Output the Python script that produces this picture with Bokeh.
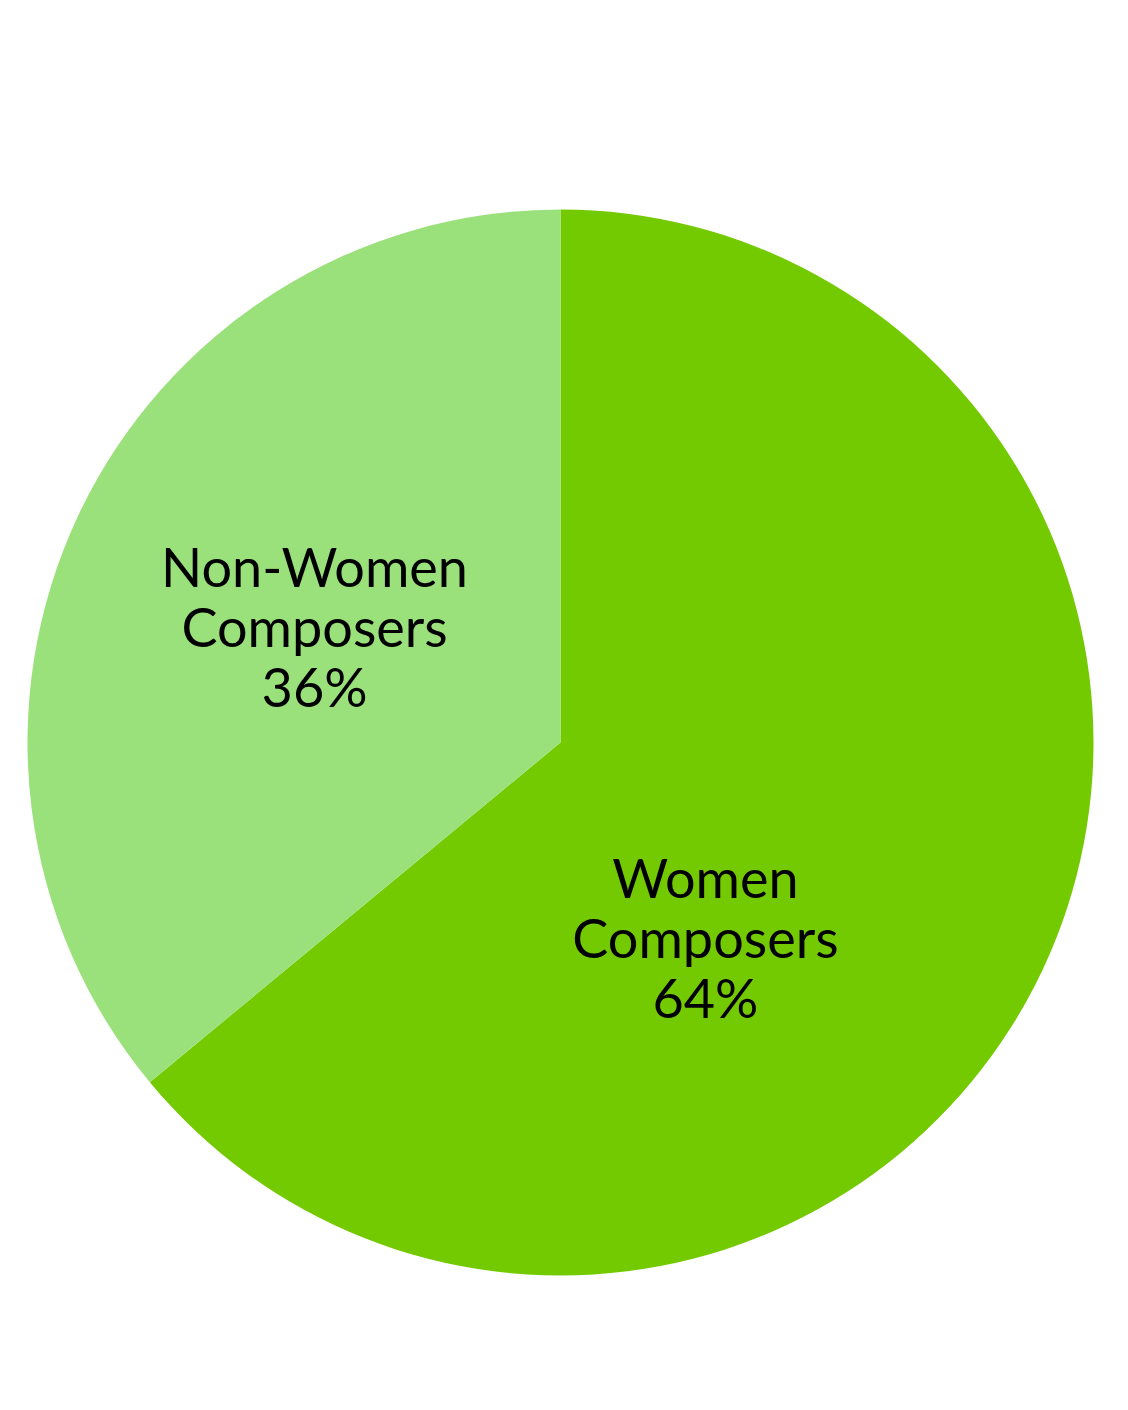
import math
from bokeh.plotting import figure
from bokeh.models import ColumnDataSource, Range1d
from bokeh.core.properties import value
from bokeh.embed import file_html
from bokeh.resources import INLINE

labels = ["Women\nComposers", "Non-Women\nComposers"]
shares = [64, 36]
colors = ["#74CA00", "#9BE17B"]

W, H = 1112, 1394
cx, cy, R = 560, 652, 533

total = sum(shares)
starts, ends, texts = [], [], []
a = math.pi / 2
for s, lab in zip(shares, labels):
    sweep = 2 * math.pi * s / total
    starts.append(a - sweep)
    ends.append(a)
    a -= sweep
    texts.append(f"{lab}\n{s}%")

# label placement (polar offsets in fractions of radius)
label_polar = [(-53.4, 0.456), (154.8, 0.51)]
lx = [cx + R * f * math.cos(math.radians(d)) for d, f in label_polar]
ly = [cy + R * f * math.sin(math.radians(d)) for d, f in label_polar]

src = ColumnDataSource(dict(start=starts, end=ends, color=colors, x=[cx]*2, y=[cy]*2,
                            lx=lx, ly=ly, text=texts))

p = figure(width=W, height=H, x_range=Range1d(0, W), y_range=Range1d(0, H),
           output_backend="svg", toolbar_location=None, min_border=0)
p.axis.visible = False
p.grid.visible = False
p.outline_line_color = None
p.background_fill_color = "white"

p.wedge(x="x", y="y", radius=R, radius_units="screen", start_angle="start", end_angle="end",
        fill_color="color", line_color=None, source=src)
p.text(x="lx", y="ly", text="text", source=src, text_align="center", text_baseline="middle",
       text_font=value("Lato"), text_font_size="54px", text_line_height=0.92, text_color="black")

open("out.html", "w").write(file_html(p, INLINE))
